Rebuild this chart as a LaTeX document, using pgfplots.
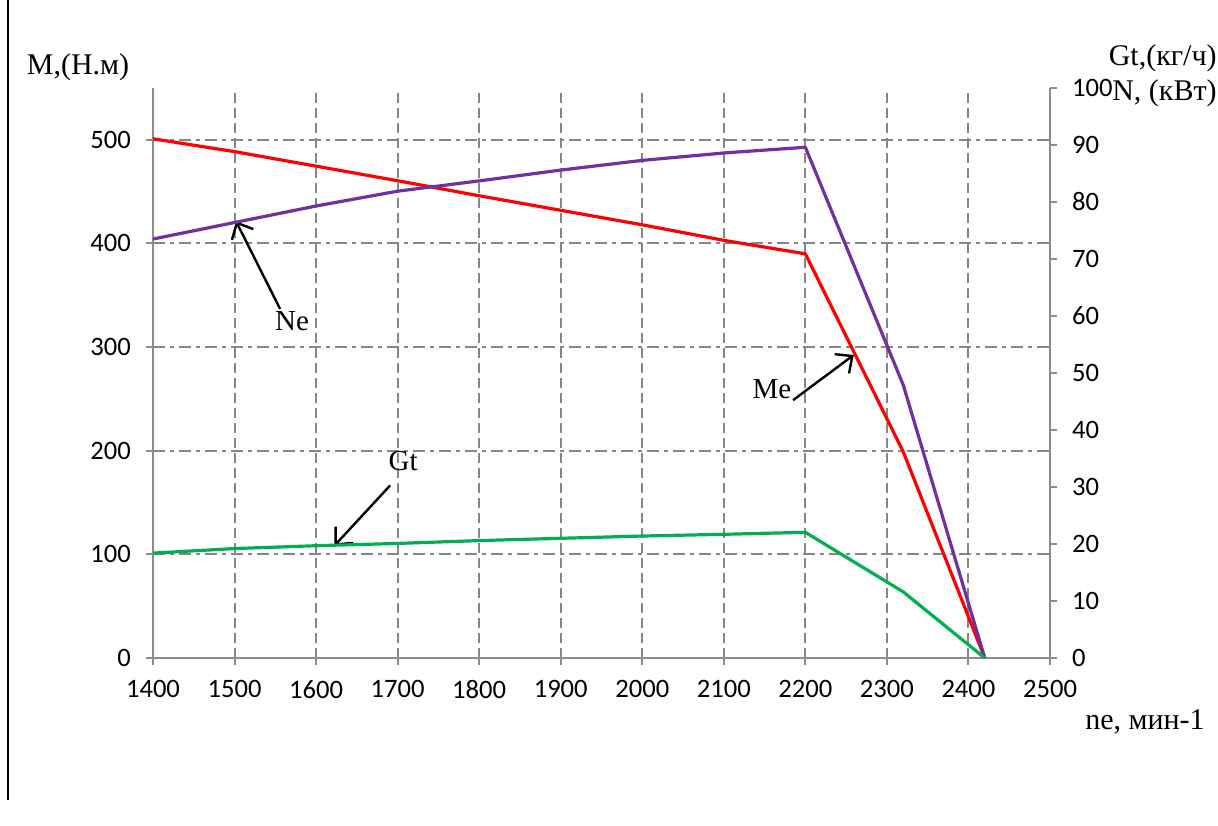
\documentclass[border=0pt]{standalone}
\usepackage{pgfplots}
\pgfplotsset{compat=1.18}
\usepackage{fontspec}
\setmainfont{Liberation Serif}
\newfontfamily\tickfont{Carlito}
\usetikzlibrary{arrows.meta}
\definecolor{gridgray}{HTML}{868686}
\definecolor{axgray}{HTML}{8C8C8C}
\definecolor{mered}{HTML}{FF0000}
\definecolor{nepurple}{HTML}{7030A0}
\definecolor{gtgreen}{HTML}{00B050}
\pgfplotsset{
  common/.style={
    at={(0pt,0pt)}, anchor=south west,
    scale only axis, width=448.5pt, height=285pt,
    xmin=1400, xmax=2500, ymin=0,
    tick align=outside, major tick length=3.5pt,
    tick style={axgray, line width=1pt},
    axis line style={axgray, line width=1pt},
    tick label style={font=\tickfont\fontsize{13.3}{15}\selectfont, text=black},
    /pgf/number format/assume math mode=true,
    /pgf/number format/1000 sep={},
  }
}
\begin{document}
\begin{tikzpicture}
\path[use as bounding box] (-76.5pt,-83.5pt) rectangle (532.5pt,329pt);
\draw[black, line width=1pt] (-72.5pt,329pt) -- (-72.5pt,-71pt);
\begin{axis}[common,
  ymax=550,
  axis x line*=bottom, axis y line*=left,
  xtick={1400,1500,...,2500}, ytick={0,100,...,500},
  xmajorgrids, ymajorgrids,
  major x grid style={gridgray, line width=1pt, dash pattern=on 5pt off 2.5pt},
  major y grid style={gridgray, line width=1pt, dash pattern=on 6pt off 2.5pt on 2pt off 2.5pt},
  yticklabel style={xshift=-4pt},
  xticklabel style={yshift=-4pt},
]
\addplot[mered, line width=1.6pt, line join=round] coordinates {
 (1400,501) (1500,488.6) (1600,474.6) (1700,460.5) (1800,446) (1900,432)
 (2000,418) (2100,403) (2200,390) (2320,199) (2420,0)};
\draw[black, line width=1.2pt, -{Straight Barb[length=6.5pt,width=12pt]}] (axis cs:1555.8,336.9) -- (axis cs:1501.8,421.4);
\draw[black, line width=1.2pt, -{Straight Barb[length=6.5pt,width=12pt]}] (axis cs:2184.9,248.8) -- (axis cs:2259.3,292.4);
\draw[black, line width=1.2pt, -{Straight Barb[length=6.5pt,width=12pt]}] (axis cs:1690.8,166.5) -- (axis cs:1622.5,108.4);
\node[font=\fontsize{14.5}{16}\selectfont] at (axis cs:1570.6,325.3) {Ne};
\node[font=\fontsize{14.5}{16}\selectfont] at (axis cs:2159.1,259.4) {Me};
\node[font=\fontsize{14.5}{16}\selectfont] at (axis cs:1706.7,190) {Gt};
\end{axis}
\begin{axis}[common,
  ymax=100,
  axis x line=none, axis y line*=right,
  ytick={0,10,...,100},
  yticklabel style={xshift=4pt},
]
\addplot[nepurple, line width=1.6pt, line join=round] coordinates {
 (1400,73.5) (1500,76.4) (1600,79.3) (1700,81.9) (1800,83.7) (1900,85.6)
 (2000,87.3) (2100,88.6) (2200,89.6) (2320,47.9) (2420,0)};
\addplot[gtgreen, line width=1.6pt, line join=round] coordinates {
 (1400,18.4) (1500,19.2) (1600,19.7) (1700,20.1) (1800,20.6) (1900,21.0)
 (2000,21.4) (2100,21.7) (2200,22.05) (2320,11.6) (2420,0)};
\end{axis}
\node[font=\fontsize{15}{17}\selectfont] at (-37.5pt,295.5pt) {M,(Н.м)};
\node[font=\fontsize{15}{17}\selectfont, anchor=east, inner sep=0pt] at (532pt,300pt) {Gt,(кг/ч)};
\node[font=\fontsize{15}{17}\selectfont, anchor=east, inner sep=0pt] at (532pt,282.5pt) {N, (кВт)};
\node[font=\fontsize{15}{17}\selectfont] at (496pt,-32pt) {ne, мин-1};
\end{tikzpicture}
\end{document}
